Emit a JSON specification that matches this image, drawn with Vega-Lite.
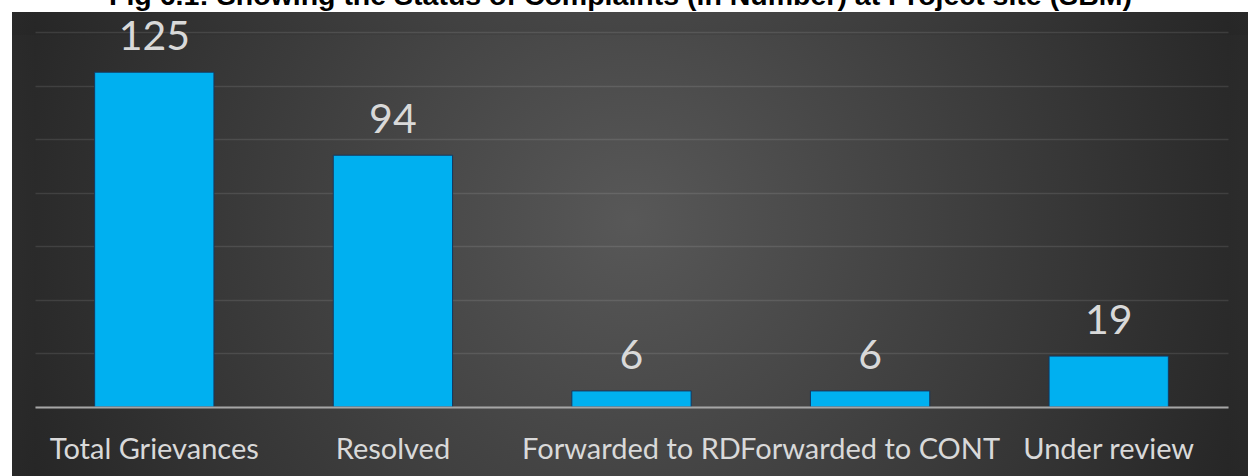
{
  "$schema": "https://vega.github.io/schema/vega-lite/v6.json",
  "width": 1193,
  "height": 441,
  "autosize": {"type": "none"},
  "padding": {"left": 35, "top": 35, "right": 20, "bottom": 0},
  "background": "white",
  "title": {
    "text": "Fig 6.1: Showing the Status of Complaints (in Number) at Project site (SBM)",
    "font": "Liberation Sans",
    "fontSize": 28.5,
    "fontWeight": "bold",
    "color": "#000000",
    "anchor": "middle",
    "frame": "group",
    "baseline": "alphabetic",
    "offset": -16,
    "dx": -11
  },
  "config": {
    "view": {
      "fill": {
        "gradient": "radial",
        "x1": 0.5, "y1": 0.47, "r1": 0,
        "x2": 0.5, "y2": 0.47, "r2": 0.55,
        "stops": [
          {"offset": 0, "color": "#585858"},
          {"offset": 1, "color": "#262626"}
        ]
      },
      "stroke": {
        "gradient": "radial",
        "x1": 0.5, "y1": 0.47, "r1": 0,
        "x2": 0.5, "y2": 0.47, "r2": 0.55,
        "stops": [
          {"offset": 0, "color": "#585858"},
          {"offset": 1, "color": "#262626"}
        ]
      },
      "strokeWidth": 46
    }
  },
  "data": {
    "values": [
      {"category": "Total Grievances", "count": 125},
      {"category": "Resolved", "count": 94},
      {"category": "Forwarded to RD", "count": 6},
      {"category": "Forwarded to CONT", "count": 6},
      {"category": "Under review", "count": 19}
    ]
  },
  "encoding": {
    "x": {
      "field": "category",
      "type": "nominal",
      "sort": null,
      "scale": {"paddingInner": 0.5, "paddingOuter": 0.25},
      "axis": {
        "orient": "bottom",
        "offset": -69,
        "title": null,
        "labelAngle": 0,
        "ticks": false,
        "domainColor": "#a6a6a6",
        "domainWidth": 2,
        "labelColor": "#d9d9d9",
        "labelFont": "Lato",
        "labelFontSize": 29,
        "labelBaseline": "alphabetic",
        "labelPadding": 51,
        "labelOverlap": false,
        "labelLimit": 0,
        "zindex": 1
      }
    },
    "y": {
      "field": "count",
      "type": "quantitative",
      "scale": {"domain": [0, 140], "range": [372, -3], "nice": false, "zero": true},
      "axis": {
        "values": [0, 20, 40, 60, 80, 100, 120, 140],
        "grid": true,
        "labels": false,
        "ticks": false,
        "domain": false,
        "title": null,
        "gridColor": "#ffffff",
        "gridOpacity": 0.1,
        "gridWidth": 1.5
      }
    }
  },
  "layer": [
    {
      "mark": {"type": "bar", "color": "#00B0F0", "stroke": "#17375e", "strokeWidth": 1}
    },
    {
      "mark": {
        "type": "text",
        "baseline": "alphabetic",
        "dy": -22,
        "font": "Lato",
        "fontSize": 41,
        "color": "#d9d9d9"
      },
      "encoding": {"text": {"field": "count", "type": "quantitative"}}
    }
  ]
}
